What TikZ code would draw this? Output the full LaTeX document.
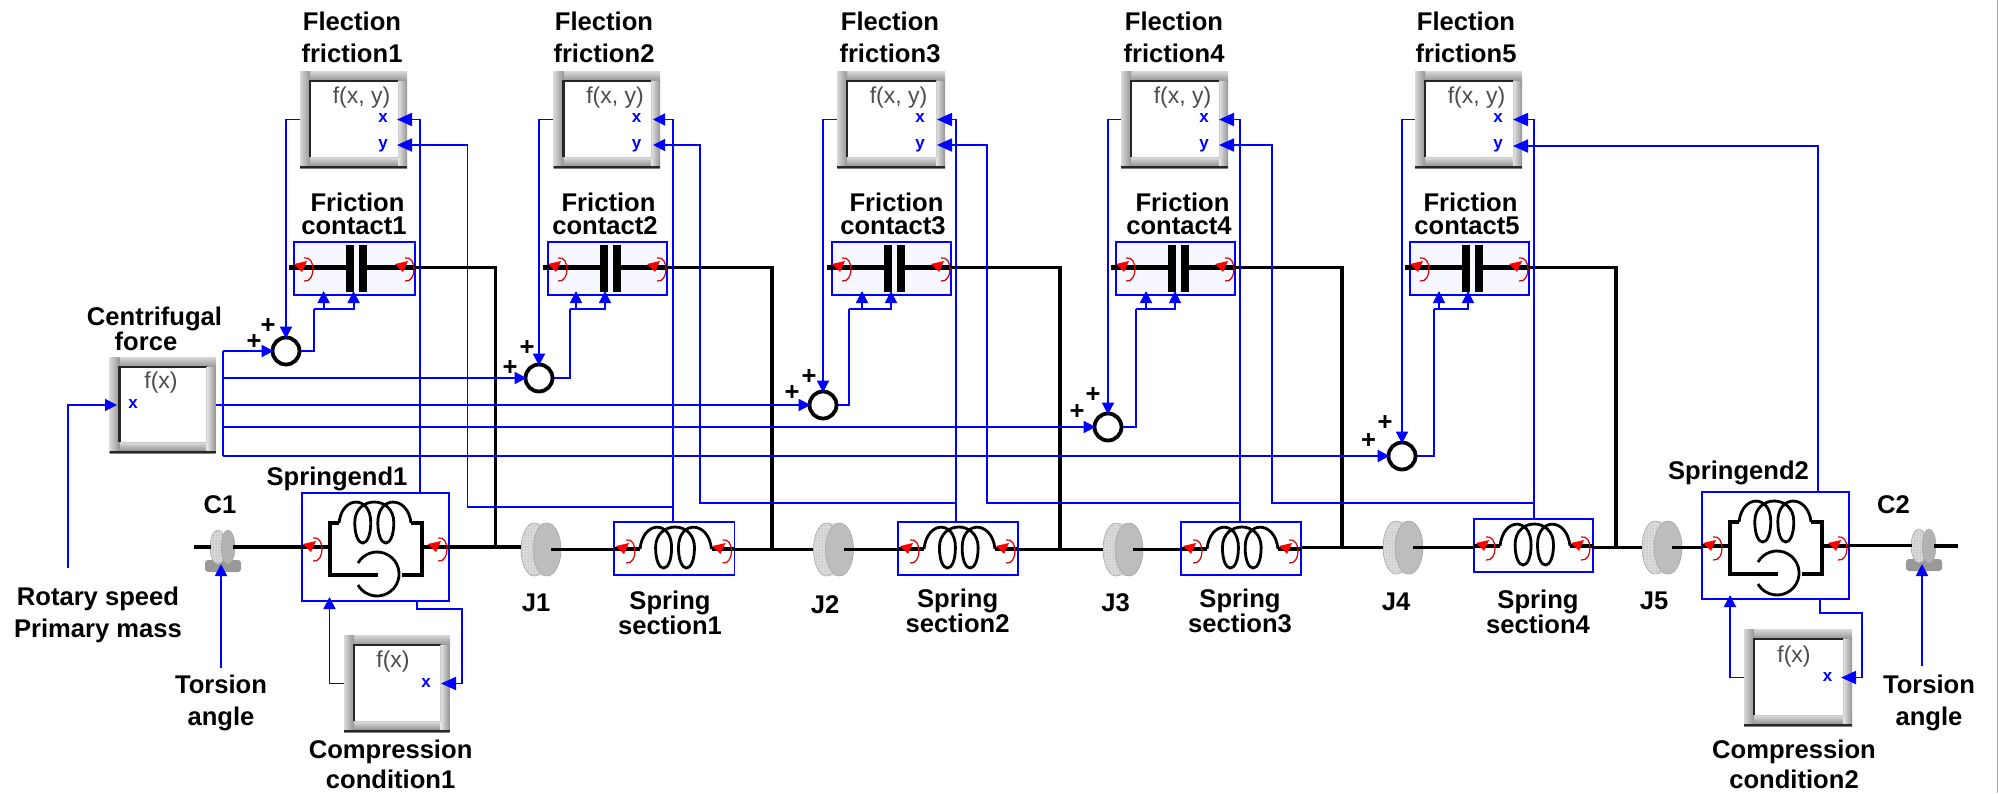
\documentclass[tikz,border=0pt]{standalone}
\usepackage{fontspec}
\setmainfont{Liberation Sans}
\usetikzlibrary{arrows.meta,patterns}
\definecolor{sigblue}{HTML}{0000FF}
\tikzset{
  sig/.style={draw=sigblue,line width=1.8pt},
  sigar/.style={sig,-{Triangle[length=12pt,width=12pt]}},
  sigbig/.style={sig,-{Triangle[length=15pt,width=13pt]}},
  sigin/.style={sigar,shorten >=-3pt},
  axisw/.style={draw=black,line width=3.8pt},
  thick4/.style={draw=black,line width=4.8pt},
  coilw/.style={draw=black,line width=2.8pt},
  lab/.style={font=\fontsize{25.6}{23}\selectfont\bfseries,align=center,inner sep=0pt},
  labw/.style={font=\fontsize{25.6}{32}\selectfont\bfseries,align=center,inner sep=0pt},
  labc/.style={font=\fontsize{25.6}{30}\selectfont\bfseries,align=center,inner sep=0pt},
  bluebox/.style={draw=sigblue,line width=1.8pt,inner sep=0pt},
  frametop/.style={fill=white,inner sep=0pt},
  sumnode/.style={circle,draw=black,line width=3.8pt,fill=white,minimum size=27pt,inner sep=0pt},
  ftext/.style={font=\fontsize{23}{23}\selectfont,text=black!70,inner sep=0pt},
  pintext/.style={font=\fontsize{17}{17}\selectfont\bfseries,text=sigblue,inner sep=0pt},
  nobox/.style={inner sep=0pt}
}
% function block with a raised bevel: name x1 y1 x2 y2
\newcommand\funcbox[5]{%
  \node[frametop,fill=black!25,minimum width={(#4-#2)*1pt},minimum height={(#5-#3)*1pt}] (#1) at ({(#2+#4)/2},{(#3+#5)/2}) {};
  \shade[top color=black!15,bottom color=black!42] (#2,#3) rectangle (#4,{#3+10});
  \shade[top color=black!12,bottom color=black!50] (#2,{#5-11}) rectangle (#4,#5);
  \shade[left color=black!15,right color=black!42] (#2,#3) rectangle ({#2+10},{#5-2});
  \shade[left color=black!10,right color=black!42] ({#4-9},{#3+10}) rectangle (#4,{#5-2});
  \fill[black!85] (#2,{#5-2}) rectangle (#4,#5);
  \fill[white] ({#2+10},{#3+10}) rectangle ({#4-9},{#5-11});
  \draw[black!85,line width=2.4pt] ({#2+10},{#5-11}) -- ({#2+10},{#3+10}) -- ({#4-9},{#3+10});
  \draw[black!20,line width=1pt] ({#2+10},{#5-11}) -- ({#4-9},{#5-11}) -- ({#4-9},{#3+10});
}
\newcommand\redport[2]{%
  \draw[red!85!black,line width=1.2pt] ({#1+3},{#2-9}) .. controls ({#1+15},{#2-12}) and ({#1+15},{#2+16}) .. ({#1+3},{#2+14});
  \fill[red] ({#1-7},{#2-3}) -- ({#1+6},{#2-6}) -- ({#1+1},{#2+5}) -- cycle;
}
% x0 x1 yend ytop ybot
\newcommand\coildraw[5]{%
  \pgfmathsetmacro\coilXa{#1}
  \pgfmathsetmacro\coilXb{#2}
  \pgfmathsetmacro\coilYe{#3}
  \pgfmathsetmacro\coilYt{#4}
  \pgfmathsetmacro\coilYb{#5}
  \pgfmathsetmacro\coilCa{\coilXa+(\coilXb-\coilXa)*0.33}
  \pgfmathsetmacro\coilCb{\coilXa+(\coilXb-\coilXa)*0.65}
  \pgfmathsetmacro\coilYm{\coilYt+(\coilYb-\coilYt)*0.5}
  \pgfmathsetmacro\coilUp{\coilYm-(\coilYm-\coilYt)/0.75}
  \pgfmathsetmacro\coilDn{\coilYm+(\coilYb-\coilYm)/0.75}
  \draw[coilw] (\coilXa,\coilYe) .. controls ({\coilXa+3},\coilUp) and ({\coilCa+8},\coilUp) .. ({\coilCa+8},\coilYm)
    .. controls ({\coilCa+8},\coilDn) and ({\coilCa-8},\coilDn) .. ({\coilCa-8},\coilYm)
    .. controls ({\coilCa-8},\coilUp) and ({\coilCb+8},\coilUp) .. ({\coilCb+8},\coilYm)
    .. controls ({\coilCb+8},\coilDn) and ({\coilCb-8},\coilDn) .. ({\coilCb-8},\coilYm)
    .. controls ({\coilCb-8},\coilUp) and ({\coilXb-3},\coilUp) .. (\coilXb,\coilYe);
}
% name x1 x2 y: flywheel
\newcommand\jdisc[4]{%
  \node[nobox,minimum width=40pt,minimum height=53pt] (#1) at ({(#2+#3)/2},#4) {};
  \fill[black!10] ({#2+14},{#4-26.5}) rectangle ({#2+27},{#4+26.5});
  \fill[black!14,draw=black!35,line width=.6pt] ({#2+13},#4) ellipse [x radius=13pt,y radius=26.5pt];
  \fill[pattern=dots,pattern color=black!45] ({#2+13},#4) ellipse [x radius=13pt,y radius=26pt];
  \fill[black!26,draw=black!35,line width=.6pt] ({#3-14},#4) ellipse [x radius=14pt,y radius=26.5pt];
  \coordinate (#1h) at ({#3-10},#4);
}
% name cx cy   small housing
\newcommand\cicon[3]{%
  \node[nobox,minimum width=22pt,minimum height=35pt] (#1) at (#2,#3) {};
  \fill[black!40,rounded corners=3pt] ({#2-17},{#3+13}) rectangle ({#2+19},{#3+25});
  \fill[black!15,draw=black!35,line width=.5pt] ({#2-4},#3) ellipse [x radius=8pt,y radius=17pt];
  \fill[pattern=dots,pattern color=black!55] ({#2-4},#3) ellipse [x radius=8pt,y radius=17pt];
  \fill[black!30,draw=black!35,line width=.5pt] ({#2+6},#3) ellipse [x radius=7pt,y radius=17pt];
}
% x1 x2 top
\newcommand\springend[3]{%
  \draw[thick4] (#1,{#3+54}) -- ({#1+28},{#3+54});
  \draw[thick4] ({#2-27},{#3+54}) -- (#2,{#3+54});
  \draw[thick4] ({#1+37},{#3+30}) -- ({#1+28},{#3+30}) -- ({#1+28},{#3+82}) -- ({#1+76},{#3+82});
  \draw[thick4] ({#1+109},{#3+30}) -- ({#1+120},{#3+30}) -- ({#1+120},{#3+82}) -- ({#1+100},{#3+82});
  \coildraw{#1+37}{#1+109}{#3+30}{#3+9}{#3+50}
  \draw[coilw] ({#1+56},{#3+70}) arc[start angle=150,end angle=-150,radius=22pt];
  \redport{#1+8}{#3+54}
  \redport{#2-14}{#3+54}
}
\begin{document}
\begin{tikzpicture}[x=1pt,y=-1pt]
\useasboundingbox (0,0) rectangle (1998,793);
\fill[white] (0,0) rectangle (1998,793);
\coordinate (edgeA) at (1997,0);
\coordinate (edgeB) at (1997,793);
\draw[black!35,line width=1pt] (edgeA) -- (edgeB);

%---- function blocks
\foreach \i/\xa/\xb in {1/300/407,2/553.5/660,3/837/945,4/1121/1228,5/1415/1522}{
  \funcbox{ff\i}{\xa}{71}{\xb}{168}
  \node[ftext] (fft\i) at ({\xa+61.5},98) {f(x, y)};
  \node[pintext] (ffpx\i) at ({\xa+83},118) {x};
  \node[pintext] (ffpy\i) at ({\xa+83},146) {y};
}
\funcbox{cf}{109.5}{357}{215.6}{453}
\node[ftext] (cft) at (161,383) {f(x)};
\node[pintext] (cfp) at (133,404) {x};
\funcbox{cc1}{344}{635}{449.5}{732}
\node[ftext] (cc1t) at (393,662) {f(x)};
\node[pintext] (cc1p) at (426,683) {x};
\funcbox{cc2}{1744}{629}{1852}{726}
\node[ftext] (cc2t) at (1794,657) {f(x)};
\node[pintext] (cc2p) at (1827.6,677) {x};

%---- friction contacts
\foreach \i/\xa/\xb in {1/294/415,2/548/667,3/832/951,4/1116/1235,5/1410/1529}{
  \node[bluebox,fill=sigblue!3,minimum width={(\xb-\xa)*1pt},minimum height=53pt] (fc\i) at ({(\xa+\xb)/2},268.5) {};
  \draw[thick4] ({\xa-5},267.5) -- ({\xa+52},267.5);
  \draw[thick4] ({\xa+72},267.5) -- (\xb,267.5);
  \fill[black] ({\xa+51.5},245) rectangle ({\xa+59.5},292);
  \fill[black] ({\xa+65},245) rectangle ({\xa+73},292);
  \redport{\xa+7}{267}
  \redport{\xb-13}{267}
}

%---- spring sections
\foreach \i/\xa/\xb/\t in {1/614/734.5/522,2/898/1018/522,3/1181/1301/522,4/1474/1593/519}{
  \node[bluebox,fill=white,minimum width={(\xb-\xa)*1pt},minimum height=53pt] (ss\i) at ({(\xa+\xb)/2},{\t+26.5}) {};
  \draw[thick4] (\xa,{\t+27}) -- ({\xa+26},{\t+27});
  \draw[thick4] ({\xb-23},{\t+27}) -- (\xb,{\t+27});
  \coildraw{\xa+26}{\xb-23}{\t+27}{\t+5}{\t+46}
  \redport{\xa+9}{\t+27}
  \redport{\xb-15}{\t+27}
}

%---- spring ends
\node[bluebox,fill=white,minimum width=147pt,minimum height=108pt] (se1) at (375.5,547) {};
\springend{302}{449}{493}
\node[bluebox,fill=white,minimum width=147pt,minimum height=107pt] (se2) at (1775.5,545.5) {};
\springend{1702}{1849}{492}

%---- inertias
\jdisc{j1}{521}{561}{549.5}
\jdisc{j2}{813.5}{853.5}{549.5}
\jdisc{j3}{1103}{1143}{549.5}
\jdisc{j4}{1383}{1423}{547.5}
\jdisc{j5}{1642}{1682}{547.5}
\cicon{c1}{222}{547}
\cicon{c2}{1923}{546}

%---- mechanical connectors
\coordinate (c1L) at (194,547);
\coordinate (c2R) at (1958,546);
\coordinate (jn1) at (495.5,547);
\coordinate (jn2) at (771.6,549);
\coordinate (jn3) at (1060,549);
\coordinate (jn4) at (1342,547);
\coordinate (jn5) at (1616,547);
\draw[axisw] (c1L) -- (c1.west);
\draw[axisw] (c1.east) -- (se1.west);
\draw[axisw] (se1.east) -- (j1.west |- se1.east);
\draw[axisw] (j1h) -- (ss1.west |- j1h);
\draw[axisw] (ss1.east |- j2) -- (j2.west);
\draw[axisw] (j2h) -- (ss2.west |- j2h);
\draw[axisw] (ss2.east |- j3) -- (j3.west);
\draw[axisw] (j3h) -- (ss3.west |- j3h);
\draw[axisw] (ss3.east |- j4) -- (j4.west);
\draw[axisw] (j4h) -- (ss4.west |- j4h);
\draw[axisw] (ss4.east |- j5) -- (j5.west);
\draw[axisw] (j5h) -- (se2.west |- j5h);
\draw[axisw] (se2.east) -- (c2.west |- se2.east);
\draw[axisw] (c2.east) -- (c2R);
\foreach \i in {1,...,5}{
  \draw[axisw] ([yshift=1pt]fc\i.east) -| (jn\i);
}

%---- summing points
\node[sumnode] (s1) at (286,351) {};
\node[sumnode] (s2) at (539,378) {};
\node[sumnode] (s3) at (823,405) {};
\node[sumnode] (s4) at (1108,427) {};
\node[sumnode] (s5) at (1402,456) {};
\foreach \n/\x/\y in {pa1/268/326,pb1/254/342,pa2/527/348,pb2/510/368,pa3/809/377,pb3/792/393,pa4/1093/395,pb4/1077/412,pa5/1385/423,pb5/1368.5/441}{
  \node[lab] (\n) at (\x,\y) {+};
}

%---- signal connectors: block pins
\coordinate (ff1x) at (397,119.5);
\coordinate (ff1y) at (397,145);
\coordinate (ff2x) at (653,119.5);
\coordinate (ff2y) at (653,145);
\coordinate (ff3x) at (937,119.5);
\coordinate (ff3y) at (937,145);
\coordinate (ff4x) at (1219,119.5);
\coordinate (ff4y) at (1219,145);
\coordinate (ff5x) at (1513,119.5);
\coordinate (ff5y) at (1513,146);
\coordinate (se1t) at (420,493);
\coordinate (ss1t) at (673,522);
\coordinate (ss2t) at (955.6,522);
\coordinate (ss3t) at (1240,522);
\coordinate (ss4t) at (1534,519);
\coordinate (se2t) at (1818,492);
\draw[sigbig] (se1t) |- (ff1x);
\draw[sigar] (ss1t) |- (ff2x);
\draw[sigbig] (ss2t) |- (ff3x);
\draw[sigbig] (ss3t) |- (ff4x);
\draw[sigbig] (ss4t) |- (ff5x);
\draw[sigbig] (se2t) |- (ff5y);
\coordinate (join1) at (673,507);
\coordinate (bend1) at (467.5,507);
\coordinate (join2) at (955.6,503);
\coordinate (bend2) at (700,503);
\coordinate (join3) at (1240,503);
\coordinate (bend3) at (987,503);
\coordinate (join4) at (1534,503);
\coordinate (bend4) at (1272,503);
\draw[sigbig] (join1) -- (bend1) |- (ff1y);
\draw[sigar] (join2) -- (bend2) |- (ff2y);
\draw[sigbig] (join3) -- (bend3) |- (ff3y);
\draw[sigbig] (join4) -- (bend4) |- (ff4y);
\foreach \i in {1,...,5}{
  \draw[sigin] (ff\i.west) -| (s\i.north);
}

%---- centrifugal force bus
\coordinate (busT) at (223,351);
\coordinate (busB) at (223,456);
\draw[sig] (busT) -- (busB);
\foreach \i in {1,2,4,5}{
  \draw[sigin] (busT |- s\i) -- (s\i.west);
}
\draw[sigin] (cf.east) -- (s3.west);
\coordinate (rsp) at (68,568);
\coordinate (cfin) at (117,405);
\draw[sigar] (rsp) |- (cfin);

%---- summing outputs to friction contacts
\foreach \i/\xb/\xl/\xr in {1/314/323.6/353.6,2/570/576/605,3/849/862/891,4/1136/1146/1175,5/1434/1439/1468}{
  \coordinate (bus\i) at (\xb,309);
  \coordinate (fca\i) at (\xl,291);
  \coordinate (fcb\i) at (\xr,291);
  \draw[sig] (s\i.east) -| (bus\i);
  \draw[sigar] (bus\i) -| (fcb\i);
  \draw[sigar] (fca\i |- bus\i) -- (fca\i);
}

%---- compression condition loops
\coordinate (se1a) at (329.5,597);
\coordinate (se1o) at (417,601);
\coordinate (rt1) at (461.6,609);
\coordinate (cc1x) at (441,683.5);
\draw[sigar] (cc1.west) -| (se1a);
\draw[sigbig] (se1o) |- (rt1) |- (cc1x);
\coordinate (se2a) at (1730,595);
\coordinate (se2o) at (1820,599);
\coordinate (rt2) at (1862,613);
\coordinate (cc2x) at (1841,677.5);
\draw[sigar] (cc2.west) -| (se2a);
\draw[sigbig] (se2o) |- (rt2) |- (cc2x);

%---- torsion inputs
\coordinate (ta1) at (221,668);
\coordinate (c1in) at (221,564);
\coordinate (ta2) at (1922,666);
\coordinate (c2in) at (1922,564);
\draw[sigar] (ta1) -- (c1in);
\draw[sigar] (ta2) -- (c2in);

%---- labels
\foreach \i/\x in {1/352,2/604,3/890,4/1174,5/1466}{
  \node[labw] (ffl\i) at (\x,37) {Flection\\friction\i};
}
\foreach \i/\x in {1/354,2/605,3/893,4/1179,5/1467}{
  \node[lab] (fcl\i) at (\x,214) {\hspace*{7pt}Friction\\contact\i};
}
\node[lab] (cfl) at (154.5,329) {Centrifugal\\force\hspace*{17pt}};
\node[lab] (se1l) at (337,479) {Springend1};
\node[lab] (se2l) at (1738.5,473) {Springend2};
\node[lab] (c1l) at (220,505) {C1};
\node[lab] (c2l) at (1893.5,505) {C2};
\node[lab] (j1l) at (536,603) {J1};
\node[lab] (j2l) at (825,605) {J2};
\node[lab] (j3l) at (1115.6,603) {J3};
\node[lab] (j4l) at (1396,602) {J4};
\node[lab] (j5l) at (1654,601) {J5};
\node[lab] (ss1l) at (670,613) {Spring\\section1};
\node[lab] (ss2l) at (957.6,611) {Spring\\section2};
\node[lab] (ss3l) at (1240,611) {Spring\\section3};
\node[lab] (ss4l) at (1538,612) {Spring\\section4};
\node[labw] (rsl) at (98,615) {Rotary speed\\Primary mass};
\node[labw] (ta1l) at (221,703) {Torsion\\angle};
\node[labw] (ta2l) at (1929,703) {Torsion\\angle};
\node[labc] (cc1l) at (390.6,764) {Compression\\condition1};
\node[labc] (cc2l) at (1794,764) {Compression\\condition2};
\end{tikzpicture}
\end{document}
